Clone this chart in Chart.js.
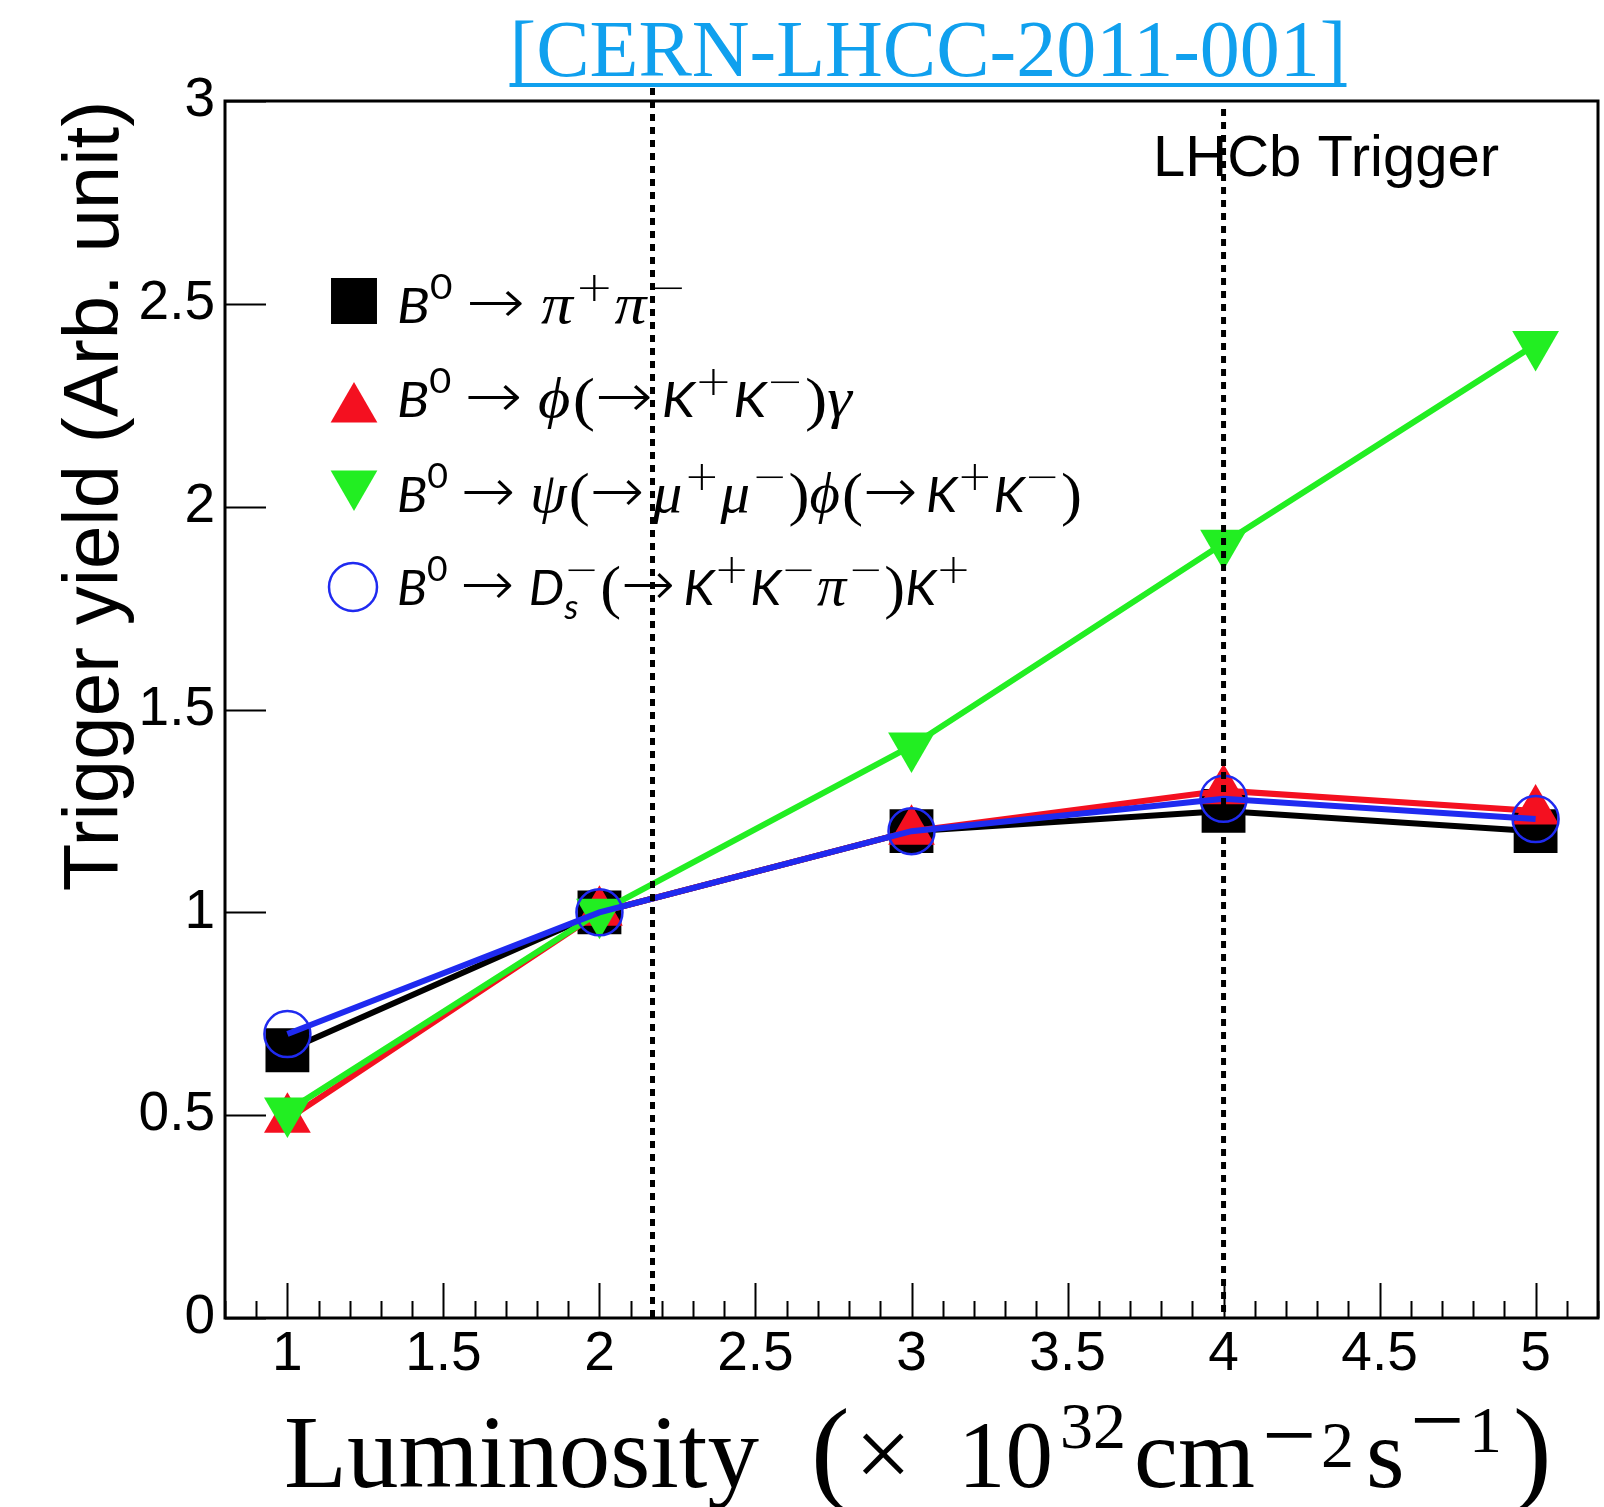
<!DOCTYPE html>
<html>
<head>
<meta charset="utf-8">
<script src="https://cdn.jsdelivr.net/npm/chart.js@4.4.1/dist/chart.umd.min.js"></script>
<style>
  html, body { margin: 0; padding: 0; background: #fff; overflow: hidden; }
  #wrap { width: 1604px; height: 1507px; }
  canvas { display: block; }
</style>
</head>
<body>
<div id="wrap"><canvas id="myChart" width="1604" height="1507"></canvas></div>
<script>
// trigger yield vs luminosity
const luminosity = [1, 2, 3, 4, 5];
const pipi = [0.66, 1.0, 1.20, 1.25, 1.20];
const phiGamma = [0.49, 1.0, 1.20, 1.30, 1.25];
const psiPhi = [0.51, 1.0, 1.41, 1.91, 2.40];
const dsK = [0.70, 1.0, 1.20, 1.28, 1.23];
const xTicks = [1, 1.5, 2, 2.5, 3, 3.5, 4, 4.5, 5];
const yTicks = [0, 0.5, 1, 1.5, 2, 2.5, 3];
const dottedAt = [2.17, 4.0];

const BLACK = '#000000', RED = '#f41020', GREEN = '#22ee22', BLUE = '#1f2af0';

function pts(vals) {
    return luminosity.map((x, i) => ({x: x, y: vals[i]}));
}

// little rich text helper
const SANS = '"Lato", "Open Sans", sans-serif';
const SERIF = '"Liberation Serif", "DejaVu Serif", serif';
const DSANS = '"DejaVu Sans", sans-serif';
function drawRich(ctx, x, y, parts, measureOnly) {
    let held = 0;
    const x0 = x;
    parts.forEach(p => {
        ctx.font = (p.it ? 'italic ' : '') + (p.w ? p.w + ' ' : '') + p.s + 'px ' + p.f;
        const dy = p.dy || 0;
        if (!measureOnly) ctx.fillText(p.t, x + (p.dx || 0), y + dy);
        const w = ctx.measureText(p.t).width + (p.dx || 0);
        if (p.keep) { held = Math.max(held, w); }
        else { x += Math.max(w, held) + (p.gap || 0); held = 0; }
    });
    return x - x0;
}
const B = t => ({t: t, it: true, s: 48, f: SANS});
const M = t => ({t: t, it: true, s: 56, f: SERIF, gap: 2});
const P = t => ({t: t, s: 60, f: SERIF, dy: 2});
const AR = {t: '\u2192', s: 62, w: 200, f: DSANS, gap: 14, dx: 12};
const AR2 = {t: '\u2192', s: 62, w: 200, f: DSANS, gap: 8};
const Z = {t: '0', s: 34, f: SANS, dy: -24};
const PL = {t: '+', s: 40, w: 200, f: DSANS, dy: -22, gap: 1};
const MI = {t: '\u2212', s: 40, w: 200, f: DSANS, dy: -22, gap: 1};

const legendRows = [
    {color: BLACK, style: 'rect', rot: 0, cy: 301, base: 323, end: 688,
     parts: [B('B'), Z, AR, M('\u03c0'), PL, M('\u03c0'), MI]},
    {color: RED, style: 'triangle', rot: 0, cy: 409, base: 417, end: 854,
     parts: [B('B'), Z, AR, M('\u03d5'), P('('), AR2, B('K'), PL, B('K'), MI, P(')'), M('\u03b3')]},
    {color: GREEN, style: 'triangle', rot: 180, cy: 484, base: 512, end: 1082,
     parts: [B('B'), Z, AR, M('\u03c8'), P('('), AR2, M('\u03bc'), PL, M('\u03bc'), MI, P(')'),
             M('\u03d5'), P('('), AR2, B('K'), PL, B('K'), MI, P(')')]},
    {color: BLUE, style: 'circle', rot: 0, cy: 587, base: 605, end: 972,
     parts: [B('B'), Z, AR, B('D'), {t: 's', it: true, s: 34, f: SANS, dy: 14, keep: true}, MI, P('('), AR2,
             B('K'), PL, B('K'), MI, M('\u03c0'), MI, P(')'), B('K'), PL]}
];

// x axis title pieces, Computer Modern look
const xTitle = [
    {t: 'Luminosity', x: 284, y: 1487, s: 103},
    {t: '(', x: 811, y: 1489, s: 116},
    {t: '\u00d7', x: 855, y: 1487, s: 100},
    {t: '10', x: 958, y: 1487, s: 95},
    {t: '32', x: 1060, y: 1448, s: 66},
    {t: 'cm', x: 1134, y: 1487, s: 99},
    {t: '\u2212', x: 1262, y: 1467, s: 96},
    {t: '2', x: 1321, y: 1467, s: 66},
    {t: 's', x: 1366, y: 1487, s: 99},
    {t: '\u2212', x: 1410, y: 1452, s: 96},
    {t: '1', x: 1469, y: 1452, s: 66},
    {t: ')', x: 1513, y: 1489, s: 116}
];

const extras = {
    id: 'extras',
    afterDraw(chart) {
        const ctx = chart.ctx;
        const a = chart.chartArea;
        const xs = chart.scales.x, ys = chart.scales.y;
        ctx.save();

        // dotted lines
        ctx.strokeStyle = '#000';
        ctx.lineWidth = 5;
        ctx.setLineDash([7, 6]);
        dottedAt.forEach((v, i) => {
            const px = xs.getPixelForValue(v);
            ctx.beginPath();
            ctx.moveTo(px, i === 0 ? a.top - 13 : a.top + 8);
            ctx.lineTo(px, a.bottom);
            ctx.stroke();
        });
        ctx.setLineDash([]);

        // ticks inside the frame
        ctx.lineWidth = 2;
        ctx.beginPath();
        for (let k = 8; k <= 52; k++) {
            const v = k / 10;
            const px = Math.round(xs.getPixelForValue(v)) + 0.5;
            const len = (k % 5 === 0) ? 35 : 17;
            ctx.moveTo(px, a.bottom);
            ctx.lineTo(px, a.bottom - len);
        }
        yTicks.forEach(v => {
            const py = Math.round(ys.getPixelForValue(v)) + 0.5;
            ctx.moveTo(a.left, py);
            ctx.lineTo(a.left + 41, py);
        });
        ctx.stroke();

        // frame
        ctx.lineWidth = 3;
        ctx.strokeRect(a.left, a.top, a.right - a.left, a.bottom - a.top);

        // legend
        ctx.textBaseline = 'alphabetic';
        ctx.textAlign = 'left';
        legendRows.forEach(r => {
            ctx.save();
            if (r.style === 'circle') {
                ctx.fillStyle = 'rgba(0,0,0,0)';
                ctx.strokeStyle = r.color;
                ctx.lineWidth = 2.5;
                Chart.helpers.drawPoint(ctx, {pointStyle: 'circle', radius: 24, rotation: 0, borderWidth: 2.5}, 353, r.cy);
            } else {
                ctx.fillStyle = r.color;
                ctx.strokeStyle = r.color;
                const rad = r.style === 'rect' ? 32.5 : 27;
                Chart.helpers.drawPoint(ctx, {pointStyle: r.style, radius: rad, rotation: r.rot, borderWidth: 0}, 354, r.cy);
            }
            ctx.restore();
            ctx.save();
            ctx.fillStyle = '#000';
            const w = drawRich(ctx, 0, 0, r.parts, true);
            const k = (r.end - 397) / w;
            ctx.translate(397, r.base);
            ctx.scale(k, 1);
            drawRich(ctx, 0, 0, r.parts, false);
            ctx.restore();
        });

        // LHCb label
        ctx.fillStyle = '#000';
        ctx.font = '58px "Liberation Sans", Arial, sans-serif';
        ctx.fillText('LHCb Trigger', 1153, 176);

        // y title
        ctx.save();
        ctx.translate(118, 496);
        ctx.rotate(-Math.PI / 2);
        ctx.textAlign = 'center';
        ctx.font = '78px "Liberation Sans", Arial, sans-serif';
        ctx.fillText('Trigger yield (Arb. unit)', 0, 0);
        ctx.restore();

        // x title
        ctx.textAlign = 'left';
        xTitle.forEach(p => {
            ctx.font = p.s + 'px ' + SERIF;
            ctx.fillText(p.t, p.x, p.y);
        });

        // reference tag on top
        ctx.fillStyle = '#10a0ee';
        ctx.font = '80px "Liberation Serif", serif';
        ctx.textAlign = 'center';
        ctx.fillText('[CERN-LHCC-2011-001]', 928, 76);
        const tw = ctx.measureText('[CERN-LHCC-2011-001]').width;
        ctx.fillRect(928 - tw / 2, 83, tw, 4);

        ctx.restore();
    }
};

function lineSet(label, vals, color, style, rot, radius, order) {
    return {
        label: label,
        data: pts(vals),
        borderColor: color,
        backgroundColor: color,
        borderWidth: 6,
        pointStyle: style,
        pointRotation: rot,
        pointRadius: radius,
        pointBorderWidth: 0,
        pointBackgroundColor: color,
        pointBorderColor: color,
        tension: 0,
        order: order
    };
}

const dsBlue = lineSet('B0 -> Ds K', dsK, BLUE, 'circle', 0, 23, 1);
dsBlue.pointBackgroundColor = 'rgba(0,0,0,0)';
dsBlue.pointBorderWidth = 2.5;

let yieldChart = new Chart(document.querySelector('#myChart').getContext('2d'), {
    type: 'line',
    data: {
        datasets: [
            lineSet('B0 -> pi+ pi-', pipi, BLACK, 'rect', 0, 31, 4),
            lineSet('B0 -> phi gamma', phiGamma, RED, 'triangle', 0, 27, 3),
            lineSet('B0 -> psi phi', psiPhi, GREEN, 'triangle', 180, 27, 2),
            dsBlue
        ]
    },
    options: {
        responsive: false,
        animation: false,
        devicePixelRatio: 1,
        layout: { autoPadding: false, padding: { top: 101, right: 6, left: 0, bottom: 0 } },
        plugins: {
            legend: { display: false },
            tooltip: { enabled: false },
            title: { display: false }
        },
        scales: {
            x: {
                type: 'linear',
                min: 0.8,
                max: 5.2,
                afterBuildTicks: s => { s.ticks = xTicks.map(v => ({value: v})); },
                afterFit: s => { s.height = 189; s.paddingLeft = 0; s.paddingRight = 0; },
                grid: { display: false, drawTicks: false },
                border: { display: false },
                ticks: {
                    color: '#000',
                    padding: 4,
                    maxRotation: 0,
                    autoSkip: false,
                    font: { family: '"Liberation Sans", Arial, sans-serif', size: 55 },
                    callback: v => String(v)
                }
            },
            y: {
                type: 'linear',
                min: 0,
                max: 3,
                afterBuildTicks: s => { s.ticks = yTicks.map(v => ({value: v})); },
                afterFit: s => { s.width = 225; s.paddingTop = 0; s.paddingBottom = 0; },
                grid: { display: false, drawTicks: false },
                border: { display: false },
                ticks: {
                    color: '#000',
                    padding: 10,
                    autoSkip: false,
                    font: { family: '"Liberation Sans", Arial, sans-serif', size: 55 },
                    callback: v => String(v)
                }
            }
        }
    },
    plugins: [extras]
});
</script>
</body>
</html>
